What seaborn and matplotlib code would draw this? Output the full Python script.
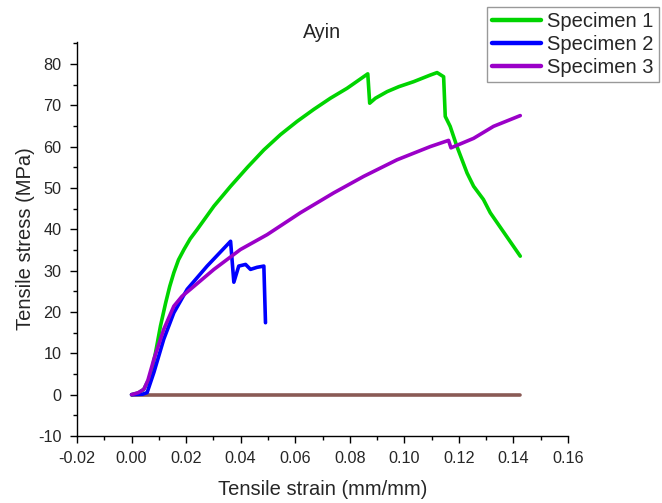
import numpy as np
import pandas as pd
import matplotlib
matplotlib.use("Agg")
import matplotlib.pyplot as plt
import seaborn as sns
from matplotlib.ticker import MultipleLocator

# ---- data ----
s1_strain = [0, 0.0025, 0.0045, 0.007, 0.0088, 0.0106, 0.0125, 0.0140, 0.0155, 0.0172, 0.0192,
             0.0215, 0.024, 0.0302, 0.0363, 0.0425, 0.0485, 0.0546, 0.0607, 0.0668, 0.0729,
             0.079, 0.0866, 0.0873, 0.0894, 0.0937, 0.098, 0.1034, 0.1095, 0.112, 0.1144,
             0.1150, 0.1168, 0.1193, 0.123, 0.1254, 0.129, 0.1315, 0.1425]
s1_stress = [0, 0.4, 1.3, 4.5, 10.2, 16.6, 22.2, 26.2, 29.5, 32.6, 35.1,
             37.7, 39.9, 45.6, 50.4, 55.0, 59.2, 62.9, 66.1, 69.0, 71.7,
             74.1, 77.6, 70.5, 71.7, 73.3, 74.5, 75.7, 77.3, 77.9, 76.9,
             67.3, 64.9, 60, 53.6, 50.4, 47.2, 44, 33.5]

s2_strain = [0, 0.004, 0.0057, 0.0082, 0.0118, 0.0155, 0.0204, 0.0277, 0.0363, 0.0375,
             0.0393, 0.0418, 0.0436, 0.0460, 0.0485, 0.0491]
s2_stress = [0, 0.1, 0.5, 5.4, 13.4, 19.8, 25.5, 31.1, 37.1, 27.2,
             31.1, 31.5, 30.3, 30.8, 31.1, 17.4]

s3_strain = [0, 0.0025, 0.0045, 0.0060, 0.0082, 0.0118, 0.0155, 0.0185, 0.0216, 0.0302,
             0.0399, 0.0497, 0.0619, 0.0741, 0.0851, 0.0973, 0.1095, 0.1162, 0.1171, 0.1254,
             0.1327, 0.1425]
s3_stress = [0, 0.5, 1.3, 3.5, 8.6, 15.8, 21.4, 23.8, 25.5, 30.3,
             35.1, 38.7, 44, 48.8, 52.8, 56.8, 60, 61.5, 59.7, 62,
             64.9, 67.5]

base_strain = [0, 0.1425]
base_stress = [0, 0]

names = ["Specimen 1", "Specimen 2", "Specimen 3"]
colors = {"Specimen 1": "#00d400", "Specimen 2": "#0000ff", "Specimen 3": "#9b00c8"}

frames = []
for n, xs, ys in zip(names, [s1_strain, s2_strain, s3_strain],
                     [s1_stress, s2_stress, s3_stress]):
    frames.append(pd.DataFrame({"strain": xs, "stress": ys, "specimen": n}))
df = pd.concat(frames, ignore_index=True)
base_df = pd.DataFrame({"strain": base_strain, "stress": base_stress})

sns.set_theme(style="white")
plt.rcParams["font.family"] = ["Liberation Sans", "DejaVu Sans"]
plt.rcParams["axes.unicode_minus"] = False

fig = plt.figure(figsize=(6.62, 5.03), dpi=100)
ax = fig.add_axes([77 / 662, 1 - 436 / 503, (568 - 77) / 662, (436 - 42) / 503])

sns.lineplot(data=base_df, x="strain", y="stress", color="#8a5a55", lw=2.6,
             ax=ax, sort=False, estimator=None, legend=False, solid_capstyle="round")
sns.lineplot(data=df, x="strain", y="stress", hue="specimen", units="specimen",
             palette=colors, lw=2.6, ax=ax, sort=False, estimator=None,
             solid_capstyle="round", solid_joinstyle="round")

ax.set_xlim(-0.02, 0.16)
ax.xaxis.set_minor_locator(MultipleLocator(0.01))
ax.yaxis.set_minor_locator(MultipleLocator(5))
xt = np.arange(-0.02, 0.161, 0.02)
ax.set_xticks(xt)
ax.set_xticklabels([f"{v:.2f}" for v in xt])
ax.set_ylim(-10, 85.3)
ax.set_yticks(np.arange(-10, 81, 10))
ax.set_yticklabels([str(v) for v in range(-10, 81, 10)])

for s in ["top", "right"]:
    ax.spines[s].set_visible(False)
for s in ["left", "bottom"]:
    ax.spines[s].set_color("black")
    ax.spines[s].set_linewidth(1.0)
ax.tick_params(axis="x", which="major", pad=6)
ax.tick_params(axis="y", which="major", pad=6)
ax.tick_params(which="major", direction="out", length=5, width=1, color="black",
               labelsize=11.7, left=True, bottom=True)
ax.tick_params(which="minor", direction="out", length=3, width=1, color="black",
               left=True, bottom=True)

ax.set_xlabel("Tensile strain (mm/mm)", fontsize=14.5, labelpad=10)
ax.set_ylabel("Tensile stress (MPa)", fontsize=14.5, labelpad=2)
ax.set_title("Ayin", fontsize=14.2, pad=3)

handles, labels = ax.get_legend_handles_labels()
if ax.get_legend():
    ax.get_legend().remove()
leg = fig.legend(handles, labels, loc="upper right", bbox_to_anchor=(659 / 662, 1 - 7 / 503),
                 fontsize=14.5, frameon=True, fancybox=False, handlelength=2.45,
                 handletextpad=0.3, borderpad=0.25, labelspacing=0.2, borderaxespad=0)
leg.get_frame().set_edgecolor("#808080")
leg.get_frame().set_linewidth(1.0)
for h in leg.get_lines():
    h.set_linewidth(3.2)

fig.savefig("out.png", dpi=100)
